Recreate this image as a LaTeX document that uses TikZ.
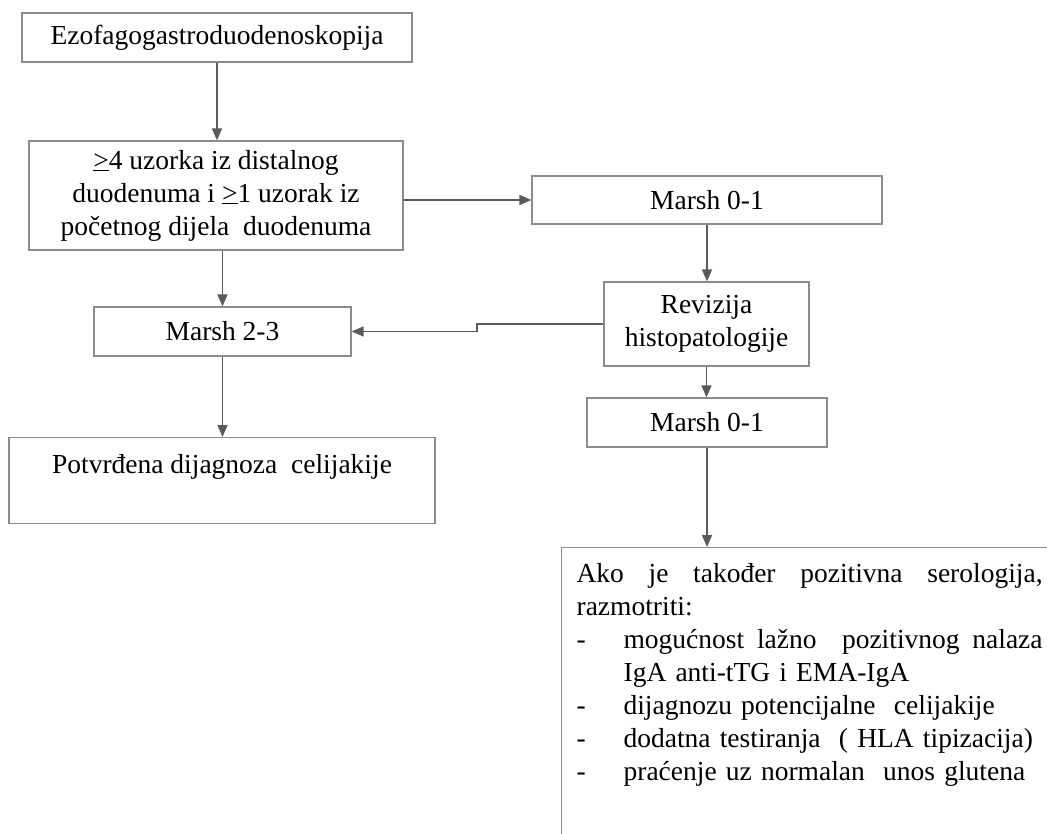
\documentclass[tikz,border=0pt]{standalone}
\usepackage{fontspec}
\setmainfont{Liberation Serif}
\usetikzlibrary{arrows.meta}
\definecolor{boxgray}{HTML}{8C8C8C}
\definecolor{arrgray}{HTML}{5A5A5A}
\tikzset{
 box/.style={draw=boxgray, line width=1.2pt, inner sep=0pt, align=center, font=\fontsize{27.5}{33}\selectfont},
 arr/.style={draw=arrgray, line width=1.5pt, ->, >={Triangle[length=12pt,width=10pt]}}
}

\begin{document}
\begin{tikzpicture}[x=1pt,y=-1pt]
\useasboundingbox (0,0) rectangle (1047,834);
\clip (0,0) rectangle (1047,834);
\node[box, minimum width=390, minimum height=49] (ezo) at (217,37.5) {Ezofagogastroduodenoskopija};
\node[box, minimum width=374, minimum height=109] (biopsy) at (216,195.5) {\underline{>}4 uzorka iz distalnog\\duodenuma i \underline{>}1 uzorak iz\\početnog dijela~ duodenuma};
\node[box, minimum width=350, minimum height=48] (marshA) at (707,200) {Marsh 0-1};
\node[box, minimum width=205, minimum height=84] (revizija) at (706.5,324) {Revizija\\histopatologije};
\node[box, minimum width=240, minimum height=49] (marshB) at (707,422.5) {Marsh 0-1};
\node[box, minimum width=257, minimum height=49] (marsh23) at (222.5,331.5) {Marsh 2-3};
\node[box, anchor=north, minimum width=426, text height=36, text depth=50] (potvrdena) at (222,437) {Potvrđena dijagnoza~ celijakije};
\node[box, anchor=north west, align=left, text width=466, inner xsep=15, inner ysep=0, text height=35, text depth=300] (final) at (561,547) {%
\hbox to 466pt{Ako\hfill je\hfill također\hfill pozitivna\hfill serologija,}\\
razmotriti:\\
\makebox[47pt][l]{-}\hbox to 419pt{mogućnost\hfill lažno\hfill\hfill pozitivnog\hfill nalaza}\\
\hspace*{47pt}IgA anti-tTG i EMA-IgA\\
\makebox[47pt][l]{-}dijagnozu potencijalne~ celijakije\\
\makebox[47pt][l]{-}dodatna testiranja~ ( HLA tipizacija)\\
\makebox[47pt][l]{-}praćenje uz normalan~ unos glutena};
\coordinate (jog) at (477,327);
\draw[arr] (ezo.south) -- (ezo.south |- biopsy.north);
\draw[arr] (biopsy.east |- marshA.west) -- (marshA.west);
\draw[arr] (marshA.south) -- (marshA.south |- revizija.north);
\draw[arr] (revizija.south) -- (revizija.south |- marshB.north);
\draw[arr] (marshB.south) -- (marshB.south |- final.north);
\draw[arr] (marsh23.north |- biopsy.south) -- (marsh23.north);
\draw[arr] (marsh23.south) -- (marsh23.south |- potvrdena.north);
\draw[arr] (revizija.west) -- (revizija.west -| jog) |- (marsh23.east);
\end{tikzpicture}
\end{document}
